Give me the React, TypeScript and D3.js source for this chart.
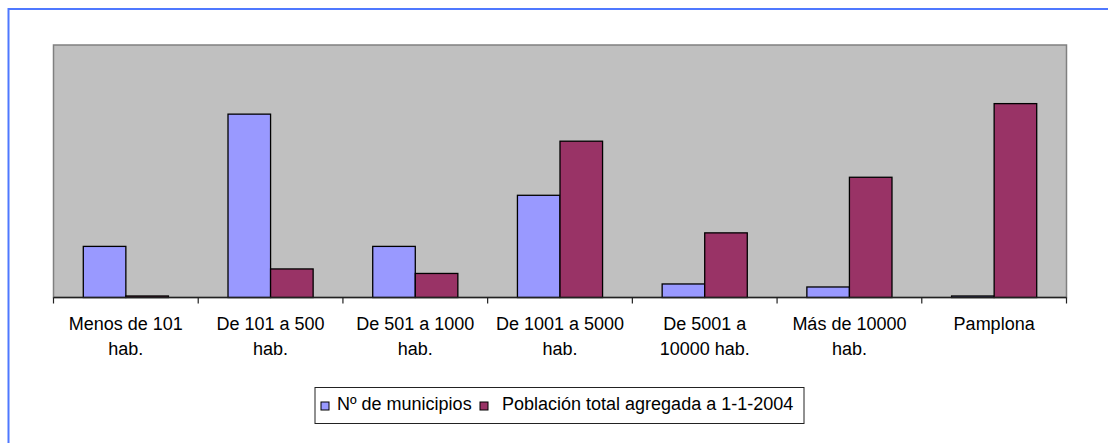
import * as d3 from 'd3';

const WIDTH = 1108;
const HEIGHT = 443;
const PLOT = { left: 53.5, right: 1066.5, top: 45, bottom: 297.5 };

const categories = [
  'Menos de 101 hab.',
  'De 101 a 500 hab.',
  'De 501 a 1000 hab.',
  'De 1001 a 5000 hab.',
  'De 5001 a 10000 hab.',
  'Más de 10000 hab.',
  'Pamplona',
];
// tick labels as they wrap in the picture
const tickLabels = [
  ['Menos de 101', 'hab.'],
  ['De 101 a 500', 'hab.'],
  ['De 501 a 1000', 'hab.'],
  ['De 1001 a 5000', 'hab.'],
  ['De 5001 a', '10000 hab.'],
  ['Más de 10000', 'hab.'],
  ['Pamplona'],
];
const seriesNames = ['Nº de municipios', 'Población total agregada a 1-1-2004'];
const municipios = [34, 122, 34, 68, 9, 7, 1];
const poblacion = [1, 19, 16, 104, 43, 80, 129];
const seriesColors = ['#9999ff', '#993366'];
const Y_MAX = 168;

const FONT = '"Liberation Sans", Arial, sans-serif';

export default function App() {
  const x0 = d3
    .scaleBand<string>()
    .domain(categories)
    .range([PLOT.left, PLOT.right])
    .padding(0);
  const x1 = d3
    .scaleBand<string>()
    .domain(seriesNames)
    .range([0, x0.bandwidth()])
    .paddingInner(0)
    .paddingOuter(0.7);
  const y = d3.scaleLinear().domain([0, Y_MAX]).range([PLOT.bottom, PLOT.top]);

  const seriesValues = [municipios, poblacion];
  const tickPositions = d3.range(categories.length + 1).map((i) => PLOT.left + i * x0.step());

  return (
    <svg
      width={WIDTH}
      height={HEIGHT}
      style={{ position: 'absolute', left: 0, top: 0 }}
      fontFamily={FONT}
    >
      <rect x={0} y={0} width={WIDTH} height={HEIGHT} fill="#ffffff" />
      {/* outer chart frame */}
      <rect x={8.5} y={9} width={WIDTH + 20} height={HEIGHT + 20} fill="none" stroke="#4f78ff" strokeWidth={2} />

      {/* plot area */}
      <rect
        x={PLOT.left}
        y={PLOT.top}
        width={PLOT.right - PLOT.left}
        height={PLOT.bottom - PLOT.top}
        fill="#c0c0c0"
        stroke="#808080"
        strokeWidth={1.5}
      />

      {/* bars */}
      {categories.map((c, ci) => (
        <g key={c} transform={`translate(${x0(c)},0)`}>
          {seriesNames.map((s, si) => {
            const v = seriesValues[si][ci];
            return (
              <rect
                key={s}
                x={x1(s)}
                y={y(v)}
                width={x1.bandwidth()}
                height={PLOT.bottom - y(v)}
                fill={seriesColors[si]}
                stroke="#000"
                strokeWidth={1.3}
              />
            );
          })}
        </g>
      ))}

      {/* x axis */}
      <line x1={PLOT.left} x2={PLOT.right} y1={PLOT.bottom} y2={PLOT.bottom} stroke="#222" strokeWidth={1.3} />
      {tickPositions.map((tx, i) => (
        <line key={i} x1={tx} x2={tx} y1={PLOT.bottom} y2={PLOT.bottom + 6} stroke="#222" strokeWidth={1.2} />
      ))}
      {categories.map((c, ci) => (
        <text key={c} x={(x0(c) ?? 0) + x0.bandwidth() / 2} y={330} fontSize={18} textAnchor="middle" fill="#000">
          {tickLabels[ci].map((line, li) => (
            <tspan key={li} x={(x0(c) ?? 0) + x0.bandwidth() / 2} dy={li === 0 ? 0 : 24.5}>
              {line}
            </tspan>
          ))}
        </text>
      ))}

      {/* legend */}
      <rect x={315} y={387.5} width={489} height={36} fill="#fff" stroke="#222" strokeWidth={1} />
      <rect x={321} y={402} width={8} height={8} fill={seriesColors[0]} stroke="#000" strokeWidth={1} />
      <text x={337} y={410} fontSize={18} fill="#000">{seriesNames[0]}</text>
      <rect x={480} y={402} width={8} height={8} fill={seriesColors[1]} stroke="#000" strokeWidth={1} />
      <text x={502} y={410} fontSize={18} fill="#000">{seriesNames[1]}</text>
    </svg>
  );
}
